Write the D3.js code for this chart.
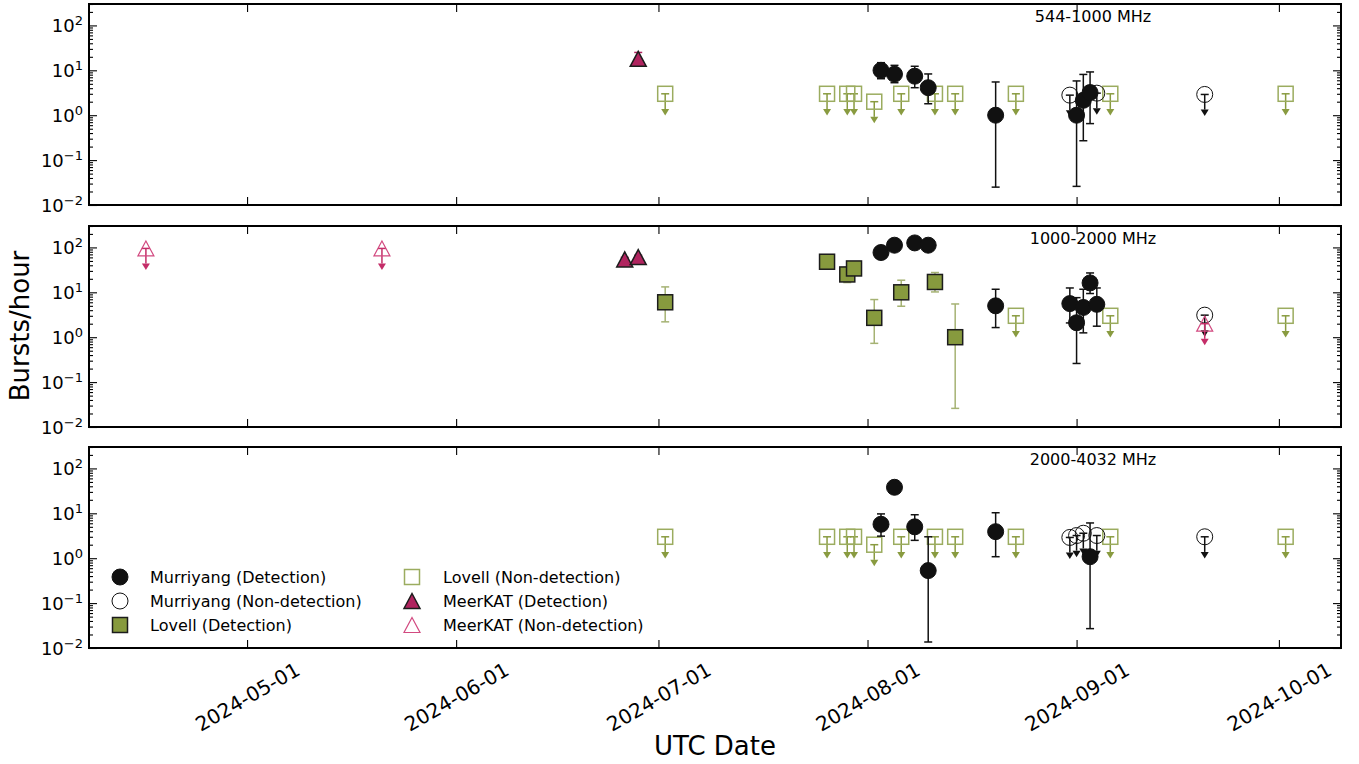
<!DOCTYPE html>
<html>
<head>
<meta charset="utf-8">
<script src="https://cdn.jsdelivr.net/npm/d3@7"></script>
<style>
  body { margin: 0; background: #fff; }
  svg { display: block; font-family: "DejaVu Sans", sans-serif; }
</style>
</head>
<body>
<svg id="chart" width="1359" height="764"></svg>
<script>
// ---- data -------------------------------------------------------------
const bandLabels = ["544-1000 MHz", "1000-2000 MHz", "2000-4032 MHz"];
const yTickValues = [0.01, 0.1, 1, 10, 100];
const yTickExponents = ["\u22122", "\u22121", "0", "1", "2"];
const yDomain = [0.01, 300];
const xDomain = ["2024-04-07T13:30:00Z", "2024-10-10T05:00:00Z"];

// detections: [UTC date, bursts/hour, lower error, upper error]
// non-detections: [UTC date, upper limit on bursts/hour]
const murriyangDetBand1 = [
  ["2024-08-03", 10.0, 6.5, 14.8],
  ["2024-08-05", 8.2, 5.3, 12.9],
  ["2024-08-08", 7.4, 4.1, 12.3],
  ["2024-08-10", 4.1, 1.8, 8.3],
  ["2024-08-20", 1.0, 0.025, 5.5],
  ["2024-09-01", 1.0, 0.026, 5.8],
  ["2024-09-02", 2.15, 0.27, 8.1],
  ["2024-09-03", 3.2, 0.65, 9.2]
];
const murriyangNonBand1 = [["2024-08-31", 2.8], ["2024-09-04", 3.1], ["2024-09-20", 2.9]];
const lovellDetBand1 = [];
const lovellNonBand1 = [
  ["2024-07-02", 3], ["2024-07-26", 3], ["2024-07-29", 3], ["2024-07-30", 3],
  ["2024-08-02", 2], ["2024-08-06", 3], ["2024-08-11", 3], ["2024-08-14", 3],
  ["2024-08-23", 3], ["2024-09-06", 3], ["2024-10-02", 3]
];
const meerkatDetBand1 = [["2024-06-28", 18, 13, 25]];
const meerkatNonBand1 = [];

const murriyangDetBand2 = [
  ["2024-08-03", 77, 70, 85],
  ["2024-08-05", 112, 102, 123],
  ["2024-08-08", 126, 115, 138],
  ["2024-08-10", 112, 102, 123],
  ["2024-08-20", 5.0, 1.64, 11.7],
  ["2024-08-31", 5.6, 2.08, 12.5],
  ["2024-09-01", 2.1, 0.26, 7.6],
  ["2024-09-02", 4.6, 1.25, 11.7],
  ["2024-09-03", 16.2, 9.4, 27],
  ["2024-09-04", 5.4, 1.76, 12.5]
];
const murriyangNonBand2 = [["2024-09-20", 3.1]];
const lovellDetBand2 = [
  ["2024-07-02", 6.0, 2.2, 13.2],
  ["2024-07-26", 48, 41, 56],
  ["2024-07-29", 25, 16.5, 36],
  ["2024-07-30", 34, 29, 40],
  ["2024-08-02", 2.7, 0.73, 6.9],
  ["2024-08-06", 10, 4.9, 18.6],
  ["2024-08-11", 17, 10.2, 27.6],
  ["2024-08-14", 1.0, 0.026, 5.5]
];
const lovellNonBand2 = [["2024-08-23", 3], ["2024-09-06", 3], ["2024-10-02", 3]];
const meerkatDetBand2 = [["2024-06-26", 54, 49, 60], ["2024-06-28", 61, 55, 67]];
const meerkatNonBand2 = [["2024-04-16", 95], ["2024-05-21", 95], ["2024-09-20", 2.0]];

const murriyangDetBand3 = [
  ["2024-08-03", 5.7, 3.1, 9.7],
  ["2024-08-05", 38, 34, 42],
  ["2024-08-08", 5.0, 2.5, 9.3],
  ["2024-08-10", 0.53, 0.0136, 3.0],
  ["2024-08-20", 3.9, 1.08, 10.3],
  ["2024-09-03", 1.08, 0.027, 6.1]
];
const murriyangNonBand3 = [
  ["2024-08-31", 2.9], ["2024-09-01", 3.2], ["2024-09-02", 3.6], ["2024-09-04", 3.2], ["2024-09-20", 3.0]
];
const lovellDetBand3 = [];
const lovellNonBand3 = [
  ["2024-07-02", 3], ["2024-07-26", 3], ["2024-07-29", 3], ["2024-07-30", 3],
  ["2024-08-02", 2], ["2024-08-06", 3], ["2024-08-11", 3], ["2024-08-14", 3],
  ["2024-08-23", 3], ["2024-09-06", 3], ["2024-10-02", 3]
];
const meerkatDetBand3 = [];
const meerkatNonBand3 = [];

const legendLabels = [
  "Murriyang (Detection)", "Murriyang (Non-detection)", "Lovell (Detection)",
  "Lovell (Non-detection)", "MeerKAT (Detection)", "MeerKAT (Non-detection)"
];

// ---- layout & style -------------------------------------------------------
const margin = { left: 89, right: 1341 };
const panelTops = [4, 226, 447];
const panelH = 201;
const LIMIT_DROP = 0.46;   // arrow length of upper limits (fraction of the limit)

const col = {
  murriyang: "#111111",
  lovellFill: "#879a3e",
  lovellOpen: "#9bac5f",
  lovellArrow: "#899b40",
  lovellErr: "#a5b273",
  meerkatFill: "#b0245f",
  meerkatOpen: "#d24a80",
  meerkatArrow: "#c42d68",
  edge: "#1c1c1c"
};

const svg = d3.select("#chart");
const parse = d3.utcParse("%Y-%m-%d");
const x = d3.scaleUtc().domain(xDomain.map(d => new Date(d))).range([margin.left, margin.right]);

const bands = [
  { label: bandLabels[0], mDet: murriyangDetBand1, mNon: murriyangNonBand1, lDet: lovellDetBand1, lNon: lovellNonBand1, kDet: meerkatDetBand1, kNon: meerkatNonBand1 },
  { label: bandLabels[1], mDet: murriyangDetBand2, mNon: murriyangNonBand2, lDet: lovellDetBand2, lNon: lovellNonBand2, kDet: meerkatDetBand2, kNon: meerkatNonBand2 },
  { label: bandLabels[2], mDet: murriyangDetBand3, mNon: murriyangNonBand3, lDet: lovellDetBand3, lNon: lovellNonBand3, kDet: meerkatDetBand3, kNon: meerkatNonBand3 }
];

// marker shapes
function drawMarker(g, shape, cx, cy, fill, stroke, sw) {
  if (shape === "circle") {
    g.append("circle").attr("cx", cx).attr("cy", cy).attr("r", 8)
      .attr("fill", fill).attr("stroke", stroke).attr("stroke-width", sw);
  } else if (shape === "square") {
    g.append("rect").attr("x", cx - 7.5).attr("y", cy - 7.5).attr("width", 15).attr("height", 15)
      .attr("fill", fill).attr("stroke", stroke).attr("stroke-width", sw);
  } else {
    g.append("path")
      .attr("d", `M${cx},${cy - 7.5}L${cx + 8},${cy + 7.5}L${cx - 8},${cy + 7.5}Z`)
      .attr("fill", fill).attr("stroke", stroke).attr("stroke-width", sw)
      .attr("stroke-linejoin", "miter");
  }
}

function errorBars(g, data, y, color) {
  data.forEach(d => {
    const cx = x(parse(d[0]));
    const y0 = y(d[2]), y1 = y(d[3]);
    g.append("line").attr("x1", cx).attr("x2", cx).attr("y1", y0).attr("y2", y1)
      .attr("stroke", color).attr("stroke-width", 1.5);
    [y0, y1].forEach(yy => g.append("line").attr("x1", cx - 4).attr("x2", cx + 4)
      .attr("y1", yy).attr("y2", yy).attr("stroke", color).attr("stroke-width", 1.5));
  });
}

function upperLimits(g, data, y, color) {
  data.forEach(d => {
    const cx = x(parse(d[0]));
    const yt = y(d[1]), yb = y(d[1] * LIMIT_DROP);
    g.append("line").attr("x1", cx).attr("x2", cx).attr("y1", yt).attr("y2", yb)
      .attr("stroke", color).attr("stroke-width", 1.5);
    g.append("line").attr("x1", cx - 4).attr("x2", cx + 4).attr("y1", yt).attr("y2", yt)
      .attr("stroke", color).attr("stroke-width", 1.5);
    g.append("path").attr("d", `M${cx - 4},${yb}L${cx + 4},${yb}L${cx},${yb + 6.5}Z`).attr("fill", color);
  });
}

bands.forEach((b, i) => {
  const top = panelTops[i], bottom = top + panelH;
  const y = d3.scaleLog().domain(yDomain).range([bottom, top]);
  const g = svg.append("g");

  // Lovell
  upperLimits(g, b.lNon, y, col.lovellArrow);
  b.lNon.forEach(d => drawMarker(g, "square", x(parse(d[0])), y(d[1]), "none", col.lovellOpen, 1.5));
  errorBars(g, b.lDet, y, col.lovellErr);
  b.lDet.forEach(d => drawMarker(g, "square", x(parse(d[0])), y(d[1]), col.lovellFill, col.edge, 1.5));

  // Murriyang
  upperLimits(g, b.mNon, y, col.murriyang);
  b.mNon.forEach(d => drawMarker(g, "circle", x(parse(d[0])), y(d[1]), "none", col.murriyang, 1));
  errorBars(g, b.mDet, y, col.murriyang);
  b.mDet.forEach(d => drawMarker(g, "circle", x(parse(d[0])), y(d[1]), col.murriyang, col.murriyang, 1));

  // MeerKAT
  upperLimits(g, b.kNon, y, col.meerkatArrow);
  b.kNon.forEach(d => drawMarker(g, "triangle", x(parse(d[0])), y(d[1]), "none", col.meerkatOpen, 1.2));
  errorBars(g, b.kDet, y, col.meerkatFill);
  b.kDet.forEach(d => drawMarker(g, "triangle", x(parse(d[0])), y(d[1]), col.meerkatFill, col.edge, 1.5));

  // axes: inward ticks on all four sides
  const majors = yTickValues;
  const minors = y.ticks().filter(v => !majors.some(m => Math.abs(v / m - 1) < 1e-9));
  const yL = svg.append("g").attr("transform", `translate(${margin.left},0)`)
    .call(d3.axisLeft(y).tickValues(majors).tickSize(-8).tickPadding(6).tickFormat(""));
  svg.append("g").attr("transform", `translate(${margin.left},0)`)
    .call(d3.axisLeft(y).tickValues(minors).tickSize(-4).tickFormat(""));
  svg.append("g").attr("transform", `translate(${margin.right},0)`)
    .call(d3.axisRight(y).tickValues(majors).tickSize(-8).tickFormat(""));
  svg.append("g").attr("transform", `translate(${margin.right},0)`)
    .call(d3.axisRight(y).tickValues(minors).tickSize(-4).tickFormat(""));

  // y tick labels: 10 with a superscript exponent
  yL.selectAll(".tick text").each(function (d, k) {
    const t = d3.select(this).attr("font-size", 18).attr("fill", "#000")
      .attr("font-family", "DejaVu Sans, sans-serif").attr("dy", "0.36em").attr("text-anchor", "end");
    t.append("tspan").text("10");
    t.append("tspan").attr("dy", "-0.55em").attr("font-size", 13).text(yTickExponents[majors.indexOf(d)]);
  });

  const xb = svg.append("g").attr("transform", `translate(0,${bottom})`)
    .call(d3.axisBottom(x).ticks(d3.utcMonth.every(1)).tickSize(-8)
      .tickFormat(i === 2 ? d3.utcFormat("%Y-%m-%d") : ""));
  svg.append("g").attr("transform", `translate(0,${top})`)
    .call(d3.axisTop(x).ticks(d3.utcMonth.every(1)).tickSize(-8).tickFormat(""));

  if (i === 2) {
    xb.selectAll(".tick text")
      .attr("font-size", 20).attr("fill", "#000").attr("font-family", "DejaVu Sans, sans-serif")
      .attr("y", 0).attr("dy", "0.35em").attr("text-anchor", "middle")
      .attr("transform", "translate(0,49) rotate(-30)");
  }

  svg.selectAll(".domain").remove();
  svg.selectAll(".tick line").attr("stroke", "#000").attr("stroke-width", 1.1);

  // frame
  svg.append("rect").attr("x", margin.left).attr("y", top)
    .attr("width", margin.right - margin.left).attr("height", panelH)
    .attr("fill", "none").attr("stroke", "#000").attr("stroke-width", 2);

  // band label
  svg.append("text").attr("x", 1093).attr("y", top + 12).attr("dy", "0.35em")
    .attr("text-anchor", "middle").attr("font-size", 16).attr("fill", "#000").text(b.label);
});

// axis titles
svg.append("text").attr("transform", "translate(20,326) rotate(-90)")
  .attr("text-anchor", "middle").attr("dy", "0.35em").attr("font-size", 26).attr("fill", "#000")
  .text("Bursts/hour");
svg.append("text").attr("x", 715).attr("y", 746).attr("dy", "0.35em")
  .attr("text-anchor", "middle").attr("font-size", 26).attr("fill", "#000").text("UTC Date");

// legend (two columns)
const legendStyles = [
  { shape: "circle", fill: col.murriyang, stroke: col.murriyang, sw: 1 },
  { shape: "circle", fill: "none", stroke: col.murriyang, sw: 1 },
  { shape: "square", fill: col.lovellFill, stroke: col.edge, sw: 1.5 },
  { shape: "square", fill: "none", stroke: col.lovellOpen, sw: 1.5 },
  { shape: "triangle", fill: col.meerkatFill, stroke: col.edge, sw: 1.5 },
  { shape: "triangle", fill: "none", stroke: col.meerkatOpen, sw: 1.2 }
];
const lg = svg.append("g");
legendLabels.forEach((lab, k) => {
  const c = Math.floor(k / 3), r = k % 3;
  const mx = c === 0 ? 120 : 412, tx = c === 0 ? 150 : 443;
  const yy = 577 + r * 24;
  const s = legendStyles[k];
  drawMarker(lg, s.shape, mx, yy, s.fill, s.stroke, s.sw);
  lg.append("text").attr("x", tx).attr("y", yy).attr("dy", "0.35em")
    .attr("font-size", 16).attr("fill", "#000").text(lab);
});
</script>
</body>
</html>
